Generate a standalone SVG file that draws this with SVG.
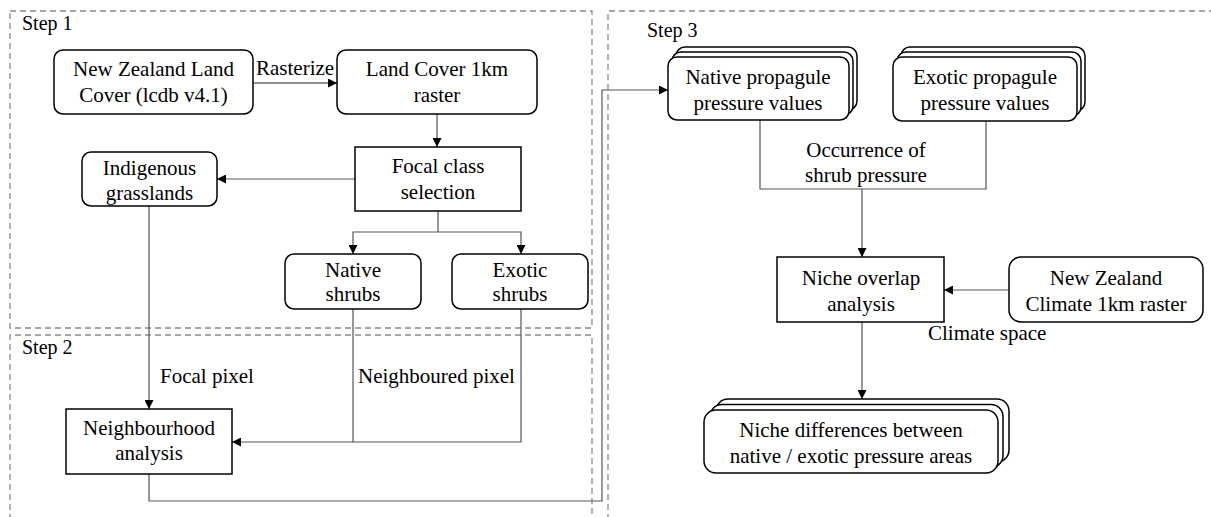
<svg xmlns="http://www.w3.org/2000/svg" width="1211" height="517" viewBox="0 0 1211 517">
<style>
text{font-family:'Liberation Serif','Times New Roman',Times,serif;fill:#000}
.t{font-size:21px;text-anchor:middle}
.s{font-size:20px}
.l{font-size:21px}
.box{fill:#fff;stroke:#000;stroke-width:1.5}
.dash{fill:none;stroke:#8a8a8a;stroke-width:1.3;stroke-dasharray:6 4}
.c{fill:none;stroke:#555;stroke-width:1.2}
.cd{fill:none;stroke:#222;stroke-width:1.2}
</style>
<defs>
<marker id="ah" viewBox="0 0 10 10" refX="10" refY="5" markerWidth="9" markerHeight="9" markerUnits="userSpaceOnUse" orient="auto">
<path d="M0,0 L10,5 L0,10 z" fill="#000"/>
</marker>
</defs>
<rect width="1211" height="517" fill="#fff"/>
<g id="groups">
<rect class="dash" x="10" y="11" width="582" height="317"/>
<path class="dash" d="M10,520 V335 H592 V520"/>
<path class="dash" d="M608,520 V11 H1215"/>
<text class="s" x="22" y="30">Step 1</text>
<text class="s" x="22" y="354">Step 2</text>
<text class="s" x="647" y="37">Step 3</text>
</g>
<g id="connectors">
<path class="cd" d="M253,83 H337" marker-end="url(#ah)"/>
<path class="c" d="M437,114 V147" marker-end="url(#ah)"/>
<path class="c" d="M355,179 H217" marker-end="url(#ah)"/>
<path class="c" d="M438,211 V232 H353 V254" marker-end="url(#ah)"/>
<path class="c" d="M438,232 H521 V254" marker-end="url(#ah)"/>
<path class="c" d="M149,206 V409" marker-end="url(#ah)"/>
<path class="c" d="M353,309 V442 H232" marker-end="url(#ah)"/>
<path class="c" d="M521,309 V442 H353"/>
<path class="c" d="M149,474 V501 H602 V90 H668" marker-end="url(#ah)"/>
<path class="c" d="M760,120 V189 H986 V121"/>
<path class="c" d="M862,189 V257" marker-end="url(#ah)"/>
<path class="c" d="M1009,290 H944" marker-end="url(#ah)"/>
<path class="c" d="M862,322 V399" marker-end="url(#ah)"/>
<text class="l" x="256" y="75">Rasterize</text>
<text class="l" x="160" y="383">Focal pixel</text>
<text class="l" x="358" y="383">Neighboured pixel</text>
<text class="t" x="866" y="157">Occurrence of</text>
<text class="t" x="866" y="182">shrub pressure</text>
<text class="l" x="928" y="340">Climate space</text>
</g>
<g id="n-nzlc">
<rect class="box" x="54" y="50" width="199" height="64" rx="9"/>
<text class="t" x="153.5" y="76">New Zealand Land</text>
<text class="t" x="153.5" y="102">Cover (lcdb v4.1)</text>
</g>
<g id="n-lc1km">
<rect class="box" x="337" y="50" width="200" height="64" rx="9"/>
<text class="t" x="437" y="76">Land Cover 1km</text>
<text class="t" x="437" y="102">raster</text>
</g>
<g id="n-focal">
<rect class="box" x="355" y="147" width="166" height="64"/>
<text class="t" x="438" y="173">Focal class</text>
<text class="t" x="438" y="199">selection</text>
</g>
<g id="n-indig">
<rect class="box" x="82" y="152" width="135" height="54" rx="9"/>
<text class="t" x="149.5" y="175">Indigenous</text>
<text class="t" x="149.5" y="200">grasslands</text>
</g>
<g id="n-native">
<rect class="box" x="285" y="254" width="136" height="55" rx="9"/>
<text class="t" x="353" y="277">Native</text>
<text class="t" x="353" y="301">shrubs</text>
</g>
<g id="n-exotic">
<rect class="box" x="452" y="254" width="136" height="55" rx="9"/>
<text class="t" x="520" y="277">Exotic</text>
<text class="t" x="520" y="301">shrubs</text>
</g>
<g id="n-neigh">
<rect class="box" x="66" y="409" width="166" height="65"/>
<text class="t" x="149" y="435">Neighbourhood</text>
<text class="t" x="149" y="460">analysis</text>
</g>
<g id="n-nativeprop">
<rect class="box" x="676" y="47" width="181" height="63" rx="9"/>
<rect class="box" x="672" y="52" width="181" height="63" rx="9"/>
<rect class="box" x="668" y="57" width="181" height="63" rx="9"/>
<text class="t" x="758" y="84">Native propagule</text>
<text class="t" x="758" y="110">pressure values</text>
</g>
<g id="n-exoticprop">
<rect class="box" x="901" y="47" width="184" height="64" rx="9"/>
<rect class="box" x="897" y="52" width="184" height="64" rx="9"/>
<rect class="box" x="893" y="57" width="184" height="64" rx="9"/>
<text class="t" x="985" y="84">Exotic propagule</text>
<text class="t" x="985" y="110">pressure values</text>
</g>
<g id="n-niche">
<rect class="box" x="777" y="257" width="167" height="65"/>
<text class="t" x="861" y="285">Niche overlap</text>
<text class="t" x="861" y="311">analysis</text>
</g>
<g id="n-climate">
<rect class="box" x="1009" y="257" width="194" height="65" rx="12"/>
<text class="t" x="1106" y="285">New Zealand</text>
<text class="t" x="1106" y="311">Climate 1km raster</text>
</g>
<g id="n-diff">
<rect class="box" x="716" y="399" width="293" height="63" rx="12"/>
<rect class="box" x="710" y="404.5" width="293" height="63" rx="12"/>
<rect class="box" x="704" y="410" width="294" height="63" rx="12"/>
<text class="t" x="851" y="437">Niche differences between</text>
<text class="t" x="851" y="463">native / exotic pressure areas</text>
</g>
</svg>
